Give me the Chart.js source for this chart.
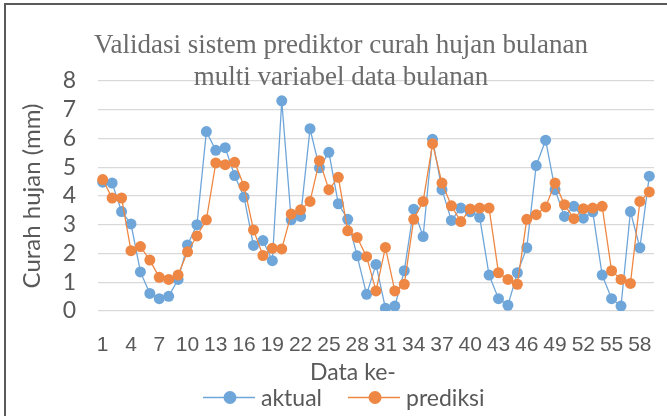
<!DOCTYPE html>
<html>
<head>
<meta charset="utf-8">
<title>Validasi sistem prediktor curah hujan bulanan</title>
<script src="https://cdn.jsdelivr.net/npm/chart.js@4.4.0/dist/chart.umd.min.js"></script>
<style>
  html, body { margin: 0; padding: 0; background: #fff; }
  #frame { position: relative; width: 667px; height: 416px; overflow: hidden; }
  #frame::before {
    content: ''; position: absolute; left: 4px; top: 3px; right: -4px; bottom: -4px;
    border: 2px solid #5a5a5a;
  }
  #chart { position: absolute; left: 0; top: 0; }
</style>
</head>
<body>
<div id="frame"><canvas id="chart" width="667" height="416"></canvas></div>
<script>
// data ke- 1..59
const dataKe = [
  '1','2','3','4','5','6','7','8','9','10','11','12','13','14','15','16','17','18','19','20',
  '21','22','23','24','25','26','27','28','29','30','31','32','33','34','35','36','37','38','39','40',
  '41','42','43','44','45','46','47','48','49','50','51','52','53','54','55','56','57','58','59'
];

// curah hujan aktual (mm)
const aktual = [
  4.48, 4.45, 3.46, 3.03, 1.36, 0.61, 0.43, 0.51, 1.10, 2.30,
  3.00, 6.24, 5.59, 5.68, 4.71, 3.96, 2.28, 2.45, 1.75, 7.31,
  3.17, 3.29, 6.34, 4.98, 5.52, 3.73, 3.19, 1.92, 0.58, 1.62,
  0.10, 0.17, 1.40, 3.54, 2.59, 5.97, 4.22, 3.15, 3.58, 3.45,
  3.26, 1.25, 0.43, 0.20, 1.33, 2.20, 5.06, 5.94, 4.22, 3.29,
  3.64, 3.23, 3.45, 1.25, 0.43, 0.17, 3.46, 2.20, 4.69
];

// hasil prediksi (mm)
const prediksi = [
  4.57, 3.93, 3.93, 2.10, 2.24, 1.77, 1.17, 1.10, 1.25, 2.06,
  2.61, 3.17, 5.15, 5.09, 5.17, 4.34, 2.82, 1.93, 2.18, 2.16,
  3.37, 3.52, 3.81, 5.23, 4.22, 4.65, 2.79, 2.56, 1.89, 0.70,
  2.21, 0.70, 0.93, 3.19, 3.81, 5.82, 4.45, 3.66, 3.11, 3.55,
  3.58, 3.58, 1.33, 1.10, 0.93, 3.19, 3.35, 3.62, 4.45, 3.70,
  3.21, 3.56, 3.58, 3.64, 1.40, 1.10, 0.96, 3.81, 4.14
];

const yTicks = [0, 1, 2, 3, 4, 5, 6, 7, 8];
const titleLines = ['Validasi sistem prediktor curah hujan bulanan', 'multi variabel data bulanan'];

const BLUE = '#6fa6da';
const ORANGE = '#ee8743';
const TEXT = '#595959';
const LABEL_FONT = '23px Lato, "Open Sans", sans-serif';

// chart title (runs over the top gridline), x axis title and the legend row
const textPlugin = {
  id: 'chartText',
  afterDraw(chart) {
    const ctx = chart.ctx;
    ctx.save();
    ctx.textBaseline = 'alphabetic';

    ctx.textAlign = 'center';
    ctx.fillStyle = '#6b6b6b';
    ctx.font = '27px "Liberation Serif", "Times New Roman", serif';
    ctx.fillText(titleLines[0], 341, 53);
    ctx.fillText(titleLines[1], 341, 85);

    ctx.fillStyle = TEXT;
    ctx.font = LABEL_FONT;
    ctx.fillText('Data ke-', 353, 380);

    // legend: line + marker swatch, then the series name
    const cy = 397.5;
    let x = 203;
    ctx.textAlign = 'left';
    chart.data.datasets.forEach(ds => {
      ctx.strokeStyle = ds.borderColor;
      ctx.lineWidth = 1.3;
      ctx.beginPath(); ctx.moveTo(x, cy); ctx.lineTo(x + 52, cy); ctx.stroke();
      ctx.fillStyle = ds.borderColor;
      ctx.beginPath(); ctx.arc(x + 27, cy, 6.5, 0, Math.PI * 2); ctx.fill();
      ctx.fillStyle = TEXT;
      ctx.fillText(ds.label, x + 58, 406);
      x += 58 + ctx.measureText(ds.label).width + 26;
    });
    ctx.restore();
  }
};

new Chart(document.getElementById('chart'), {
  type: 'line',
  data: {
    labels: dataKe,
    datasets: [
      {
        label: 'aktual', data: aktual, order: 2,
        borderColor: BLUE, backgroundColor: BLUE,
        pointBackgroundColor: BLUE, pointBorderColor: BLUE,
        borderWidth: 1.3, pointRadius: 5.5, pointBorderWidth: 0, tension: 0
      },
      {
        label: 'prediksi', data: prediksi, order: 1,
        borderColor: ORANGE, backgroundColor: ORANGE,
        pointBackgroundColor: ORANGE, pointBorderColor: ORANGE,
        borderWidth: 1.3, pointRadius: 5.5, pointBorderWidth: 0, tension: 0
      }
    ]
  },
  options: {
    responsive: false,
    animation: false,
    layout: { padding: { top: 81, right: 13, bottom: 43, left: 0 } },
    plugins: {
      title: { display: false },
      legend: { display: false },
      tooltip: { enabled: false }
    },
    scales: {
      x: {
        offset: true,
        grid: { display: false },
        border: { display: false },
        ticks: {
          autoSkip: false,
          maxRotation: 0,
          padding: 14,
          color: TEXT,
          font: { family: '"Liberation Sans Narrow", "Arial Narrow", sans-serif', size: 21 },
          callback(value, index) { return index % 3 === 0 ? this.getLabelForValue(value) : ''; }
        },
        afterFit(scale) { scale.height = 62; }
      },
      y: {
        min: 0,
        max: 8,
        afterBuildTicks(scale) { scale.ticks = yTicks.map(v => ({ value: v })); },
        grid: { color: '#d9d9d9', lineWidth: 1.3, drawTicks: false },
        border: { display: false },
        ticks: {
          autoSkip: false,
          padding: 22,
          color: TEXT,
          font: { family: 'Lato', size: 23 }
        },
        title: {
          display: true,
          text: 'Curah hujan (mm)',
          color: TEXT,
          font: { family: 'Lato', size: 24 },
          padding: { top: 18, bottom: 0 }
        },
        afterFit(scale) { scale.width = 98; }
      }
    }
  },
  plugins: [textPlugin]
});
</script>
</body>
</html>
